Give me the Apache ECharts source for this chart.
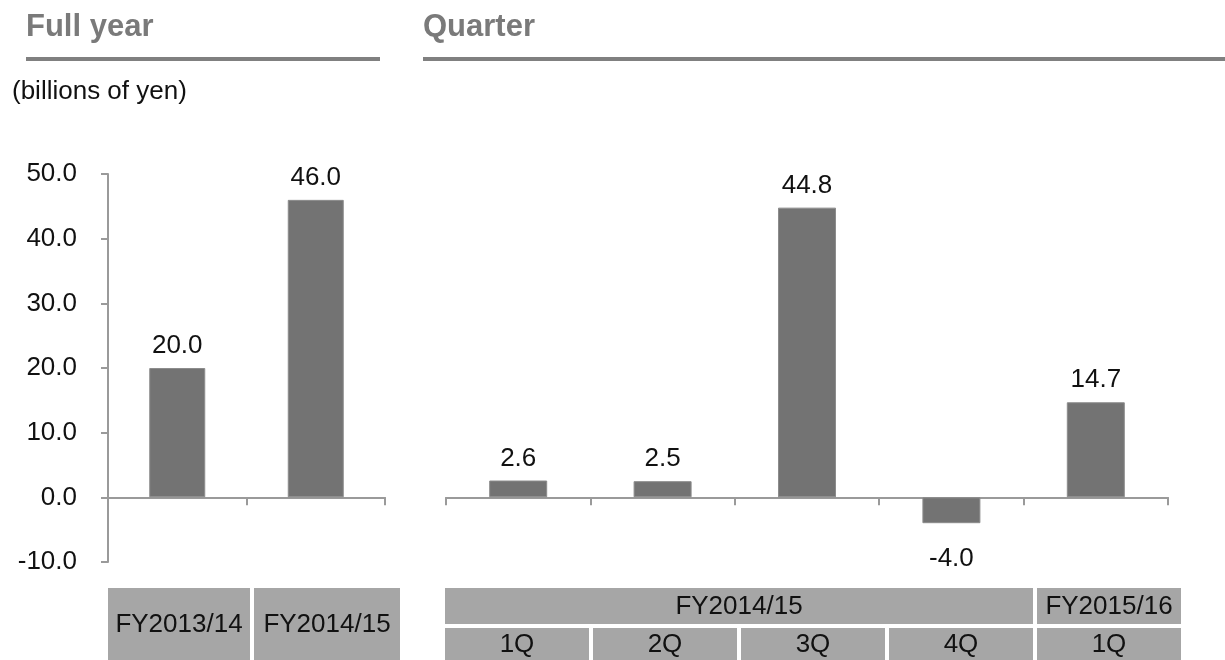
<!DOCTYPE html>
<html>
<head>
<meta charset="utf-8">
<script src="https://cdn.jsdelivr.net/npm/echarts@6/dist/echarts.min.js"></script>
<style>
html, body { margin: 0; padding: 0; background: #fff; }
#main { width: 1225px; height: 660px; }
</style>
</head>
<body>
<div id="main"></div>
<script>
// data
var fullYearCats = ['FY2013/14', 'FY2014/15'];
var fullYearValues = [20.0, 46.0];
var quarterCats = ['1Q', '2Q', '3Q', '4Q', '1Q'];
var quarterValues = [2.6, 2.5, 44.8, -4.0, 14.7];
var fiscalGroups = ['FY2014/15', 'FY2015/16'];
var fiscalSpans = [4, 1];
var yMin = -10, yMax = 50, yStep = 10;

var FONT = '"Liberation Sans", Arial, sans-serif';
var AXIS_GREY = '#9a9a9a';
var BAR_GREY = '#737373';
var CELL_GREY = '#a6a6a6';

function barData(values) {
    return values.map(function (v) {
        return {
            value: v,
            label: { position: v < 0 ? 'bottom' : 'top', distance: v < 0 ? 23 : 9 }
        };
    });
}

function catAxis(gridIndex, cats) {
    return {
        type: 'category',
        gridIndex: gridIndex,
        data: cats,
        axisLine: { onZero: true, lineStyle: { color: AXIS_GREY, width: 2 } },
        axisTick: { show: true, length: 8, lineStyle: { color: AXIS_GREY, width: 2 } },
        axisLabel: { show: false }
    };
}

function valAxis(gridIndex, visible) {
    return {
        type: 'value',
        gridIndex: gridIndex,
        min: yMin,
        max: yMax,
        interval: yStep,
        show: visible,
        splitLine: { show: false },
        axisLine: { show: true, lineStyle: { color: AXIS_GREY, width: 2 } },
        axisTick: { show: true, length: 7, lineStyle: { color: AXIS_GREY, width: 2 } },
        axisLabel: {
            margin: 31,
            color: '#111',
            fontSize: 26,
            fontFamily: FONT,
            formatter: function (v) { return v.toFixed(1); }
        }
    };
}

function barSeries(xi, values, width) {
    return {
        type: 'bar',
        xAxisIndex: xi,
        yAxisIndex: xi,
        barWidth: width,
        data: barData(values),
        itemStyle: { color: BAR_GREY, borderColor: '#8c8c8c', borderWidth: 1 },
        label: {
            show: true,
            color: '#111',
            fontSize: 26,
            fontFamily: FONT,
            formatter: function (p) { return p.value.toFixed(1); }
        },
        animation: false
    };
}

// table cells below the axes
function tableGraphics() {
    var g = [];
    function cell(x, y, w, h, text) {
        g.push({ type: 'rect', shape: { x: x, y: y, width: w, height: h }, style: { fill: CELL_GREY } });
        g.push({
            type: 'text',
            style: {
                text: text, x: x + w / 2, y: y + h / 2 + 1,
                textAlign: 'center', textVerticalAlign: 'middle',
                font: '26px ' + FONT, fill: '#111'
            }
        });
    }
    // full year
    var lx = 108, lw = [142, 146];
    fullYearCats.forEach(function (c, i) {
        cell(lx, 588, lw[i], 72, c);
        lx += lw[i] + 4;
    });
    // quarter: fiscal year row
    var pitch = 148, gx = 445;
    fiscalGroups.forEach(function (c, i) {
        var w = fiscalSpans[i] * pitch - 4;
        cell(gx, 588, w, 36, c);
        gx += w + 4;
    });
    // quarter row
    quarterCats.forEach(function (c, i) {
        cell(445 + i * pitch, 628, pitch - 4, 32, c);
    });
    return g;
}

var headerGraphics = [
    { type: 'text', style: { text: 'Full year', x: 26, y: 27, textVerticalAlign: 'middle', font: 'bold 31px ' + FONT, fill: '#7a7a7a' } },
    { type: 'rect', shape: { x: 26, y: 57, width: 354, height: 4 }, style: { fill: '#808080' } },
    { type: 'text', style: { text: 'Quarter', x: 423, y: 27, textVerticalAlign: 'middle', font: 'bold 31px ' + FONT, fill: '#7a7a7a' } },
    { type: 'rect', shape: { x: 423, y: 57, width: 802, height: 4 }, style: { fill: '#808080' } },
    { type: 'text', style: { text: '(billions of yen)', x: 12, y: 92, textVerticalAlign: 'middle', font: '26px ' + FONT, fill: '#111' } }
];

var dom = document.getElementById('main');
var myChart = echarts.init(dom);

var option = {
    backgroundColor: '#fff',
    animation: false,
    grid: [
        { left: 108, right: 840, top: 174, bottom: 98 },
        { left: 446, right: 57, top: 174, bottom: 98 }
    ],
    xAxis: [catAxis(0, fullYearCats), catAxis(1, quarterCats)],
    yAxis: [valAxis(0, true), valAxis(1, false)],
    series: [
        barSeries(0, fullYearValues, 56),
        barSeries(1, quarterValues, 58)
    ],
    graphic: headerGraphics.concat(tableGraphics())
};

myChart.setOption(option);
</script>
</body>
</html>
